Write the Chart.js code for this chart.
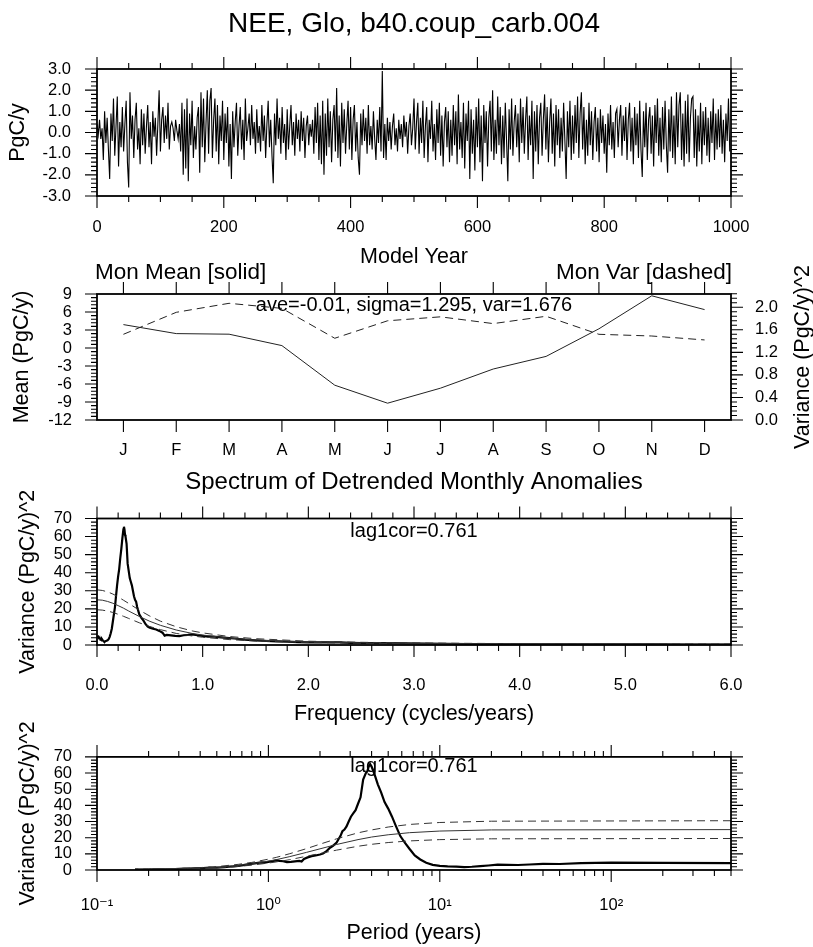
<!DOCTYPE html>
<html><head><meta charset="utf-8">
<script src="https://cdn.jsdelivr.net/npm/chart.js@4.4.1/dist/chart.umd.min.js"></script>
<style>
html,body{margin:0;padding:0;background:#fff;}
#wrap{position:relative;width:813px;height:947px;overflow:hidden;background:#fff;}
canvas{position:absolute;left:0;}
</style></head><body>
<div id="wrap">
<canvas id="c1" style="top:0px;width:813px;height:272px" width="813" height="272"></canvas>
<canvas id="c2" style="top:258px;width:813px;height:212px" width="813" height="212"></canvas>
<canvas id="c3" style="top:465px;width:813px;height:265px" width="813" height="265"></canvas>
<canvas id="c4" style="top:722px;width:813px;height:225px" width="813" height="225"></canvas>
</div>
<script>
// ---------------- DATA ----------------
const mainTitle = 'NEE, Glo, b40.coup_carb.004';
// NEE annual series (PgC/y), one value every 2 model years
const nee = [
 0.4,-0.1,0.6,-0.3,0.2,-1.3,1.0,-0.5,0.7,-0.8,
 -2.2,0.9,-0.4,1.6,-1.1,0.3,1.7,-1.6,0.5,-0.7,
 1.2,-0.9,0.4,1.5,-1.4,-2.6,1.9,-0.3,0.8,-1.2,
 0.6,1.4,-0.8,0.2,-1.5,1.1,-0.6,0.9,-1.0,0.3,
 1.3,-0.7,0.5,-1.5,1.0,-0.2,0.7,-1.1,0.4,2.0,
 -0.9,0.6,1.2,-0.5,0.8,-0.3,1.4,-0.8,0.3,0.5,
 0.2,-0.4,0.6,0.1,-0.3,0.4,-0.9,1.4,-2.0,1.1,
 -1.7,1.6,-2.3,0.9,-0.6,1.5,-1.2,0.3,-0.8,0.7,
 1.2,-1.9,1.9,-0.7,1.6,-1.4,0.5,2.0,-1.0,1.5,
 2.1,-1.2,0.6,1.6,-0.9,1.3,-1.5,0.8,-0.4,1.5,
 -1.3,0.9,-0.5,1.2,-1.6,0.4,-2.2,1.0,-0.7,0.5,
 1.4,-1.1,0.3,1.2,-0.8,0.6,-1.3,1.6,-0.4,0.2,
 0.9,-0.6,1.3,-0.3,0.5,-1.0,1.1,-0.5,0.3,-0.9,
 1.3,-0.4,0.8,-1.2,0.4,1.5,-0.7,0.6,-1.1,-2.4,
 0.9,-0.6,1.6,-0.3,0.7,-1.0,1.2,-0.5,0.4,-1.3,
 1.1,-0.8,0.3,1.3,-0.6,0.5,-1.1,0.9,-0.3,0.6,
 -0.9,1.0,-0.4,0.7,-1.2,0.3,0.8,-0.6,0.4,-0.2,
 0.6,-1.0,1.2,-0.5,1.4,-1.3,0.8,-1.5,1.5,-2.0,
 0.9,-1.1,1.6,-0.7,1.0,-1.4,0.6,1.3,-0.9,2.1,
 -1.2,0.8,-1.6,1.4,-0.5,1.1,-1.0,0.4,1.5,-0.8,
 1.2,-1.3,0.6,1.3,-0.9,0.5,-1.2,-2.0,0.9,-0.6,
 1.1,-0.4,0.7,-1.0,1.3,-0.6,0.3,-0.8,1.0,-0.3,
 -1.3,0.6,-0.5,1.2,-0.9,2.9,-1.2,0.4,-1.3,0.7,
 -0.4,0.5,-0.8,0.3,0.9,-0.6,0.2,-0.9,0.6,-0.3,
 0.4,-0.7,0.8,-0.2,0.5,-1.0,0.3,0.9,-0.6,0.2,
 1.6,-0.8,0.5,1.4,-1.0,0.7,-0.5,1.5,-1.2,0.3,
 1.2,-1.4,0.6,-0.3,1.5,-0.9,0.4,-1.3,1.1,-0.5,
 1.4,-1.1,0.8,-1.6,0.5,1.2,-0.7,1.0,-1.4,0.6,
 -1.1,1.3,-0.6,1.0,-1.5,1.8,-0.8,0.5,-1.2,1.4,
 -1.7,0.9,-0.4,1.5,-2.2,1.1,-1.0,0.6,-1.8,1.2,
 -0.7,1.6,-1.4,0.8,-2.3,1.3,-0.5,1.0,-1.6,0.7,
 1.5,-0.9,2.0,-1.3,0.6,-1.0,1.7,-0.6,1.2,-1.5,
 0.8,-1.2,1.4,-0.4,-2.3,1.1,-0.8,1.6,-1.1,0.5,
 1.3,-0.7,0.9,-1.4,1.6,-0.5,1.2,-1.0,0.6,1.7,
 -1.3,0.8,-0.6,1.5,-2.2,1.0,-0.9,1.3,-1.5,0.7,
 1.4,-1.1,0.6,1.8,-0.8,1.2,-1.4,0.5,1.6,-1.0,
 0.9,-1.6,1.3,-0.6,1.1,-1.2,0.7,-0.9,1.4,-0.4,
 -2.2,1.0,-0.7,1.5,-1.3,0.8,-1.0,1.3,-0.5,1.7,
 -1.2,0.9,1.9,-0.8,1.2,-1.5,0.6,-1.1,1.4,-0.6,
 1.0,-1.3,0.5,1.2,-0.9,0.7,-1.4,1.1,-0.5,0.8,
 -1.0,0.4,-1.9,0.9,-0.6,1.3,-0.8,0.5,-1.2,0.9,
 1.1,-0.7,0.6,1.3,-1.1,0.8,-0.4,1.2,-1.3,0.6,
 1.4,-0.9,0.7,-1.5,1.2,-0.6,0.9,-1.2,1.5,-0.8,
 -2.1,1.0,-0.7,1.4,-1.3,0.6,1.2,-1.0,0.8,-1.6,
 1.3,-0.5,1.6,-1.1,0.7,-1.4,1.2,-0.8,1.5,-0.6,
 -1.9,1.1,-0.9,1.7,-1.2,0.8,-1.5,1.9,-0.7,1.3,
 1.9,-1.3,0.9,-1.6,1.5,-1.0,1.8,-1.4,0.7,1.6,
 1.7,-1.2,1.1,-1.6,0.8,-0.9,1.4,-1.5,1.0,-0.6,
 1.2,-1.1,0.7,-1.4,1.0,-0.5,1.6,-1.3,0.9,-0.8,
 1.1,-0.7,1.3,-1.0,0.6,-1.4,0.9,-0.4,1.6,-0.9
];
const neeYears = nee.map((_, i) => i * 2);
const yearTicks = [0, 200, 400, 600, 800, 1000];
const neeTicks = [-3, -2, -1, 0, 1, 2, 3];

// Monthly climatology
const months = ['J','F','M','A','M','J','J','A','S','O','N','D'];
const monMean = [3.9, 2.4, 2.3, 0.4, -6.2, -9.2, -6.7, -3.5, -1.4, 3.2, 8.7, 6.4];
const monVar  = [1.52, 1.91, 2.07, 1.98, 1.45, 1.76, 1.83, 1.71, 1.84, 1.52, 1.49, 1.42];
const meanTicks = [-12, -9, -6, -3, 0, 3, 6, 9];
const varTicks = [0, 0.4, 0.8, 1.2, 1.6, 2.0];
const statsText = 'ave=-0.01, sigma=1.295, var=1.676';

// Spectrum of detrended monthly anomalies
const specFreq = [0.002,0.005,0.01,0.015,0.02,0.025,0.03,0.035,0.04,0.046,0.052,0.058,0.065,0.072,0.08,0.09,0.1,0.11,0.12,0.13,0.14,0.15,0.16,0.17,0.18,0.19,0.2,0.21,0.22,0.23,0.24,0.25,0.255,0.26,0.265,0.27,0.28,0.29,0.3,0.31,0.32,0.33,0.34,0.35,0.36,0.37,0.38,0.39,0.4,0.42,0.44,0.46,0.48,0.5,0.53,0.56,0.59,0.62,0.64,0.66,0.7,0.74,0.78,0.82,0.86,0.9,0.95,1.0,1.05,1.1,1.15,1.2,1.3,1.4,1.5,1.6,1.7,1.8,1.9,2.0,2.1,2.2,2.3,2.4,2.5,2.7,2.9,3.1,3.3,3.5,3.8,4.1,4.4,4.7,5.0,5.3,5.6,6.0];
const specVar  = [4.2,4.4,4.6,4.3,3.7,3.8,3.4,3.1,3.2,3.3,2.8,2.4,2.0,1.8,2.1,2.3,2.6,3.2,4.5,6.5,9.0,13,17,21,27,33,38,42,48,53,59,64,65.5,64,61,60,56,45,41,37,35,33,30,27,25,24,21,19,17,15,13.5,11.5,10.2,9.6,9.0,8.6,7.8,6.8,5.2,5.6,5.3,5.0,4.9,5.4,5.6,5.9,5.4,5.0,4.6,4.7,4.4,4.1,3.6,3.0,2.6,2.2,2.0,1.8,1.6,1.5,1.4,1.5,1.4,1.2,1.1,1.0,0.9,0.8,0.7,0.55,0.45,0.4,0.35,0.33,0.3,0.3,0.28,0.27];
const lagText = 'lag1cor=0.761';
// red-noise reference spectrum and its bounds
const rnFreq  = [0.002,0.05,0.1,0.15,0.2,0.25,0.3,0.4,0.5,0.6,0.75,0.9,1.0,1.25,1.5,2.0,2.5,3.0,4.0,5.0,6.0];
const rnMid   = [25.0,24.8,24.1,23.1,21.8,20.4,18.8,15.8,13.1,10.9,8.3,6.4,5.5,3.8,2.8,1.7,1.2,0.9,0.6,0.5,0.46];
const rnUpper = [30.5,30.2,29.4,28.2,26.6,24.8,23.0,19.3,16.0,13.2,10.1,7.8,6.7,4.7,3.5,2.1,1.5,1.1,0.74,0.6,0.56];
const rnLower = [19.5,19.3,18.8,18.0,17.0,15.9,14.7,12.3,10.2,8.5,6.4,5.0,4.3,3.0,2.2,1.4,0.94,0.71,0.48,0.38,0.36];
const freqTicks = [0, 1, 2, 3, 4, 5, 6];
const specTicks = [0, 10, 20, 30, 40, 50, 60, 70];
const periodTicks = [0.1, 1, 10, 100];
const periodLabels = ['10\u207B\u00B9', '10\u2070', '10\u00B9', '10\u00B2'];

// ---------------- HELPERS ----------------
const FONT = "'Liberation Sans', Arial, Helvetica, 'DejaVu Sans', sans-serif";
Chart.defaults.font.family = FONT;
Chart.defaults.color = '#000';
const steps = (a, b, s) => { const r = []; const n = Math.round((b - a) / s); for (let i = 0; i <= n; i++) r.push(+(a + i * s).toFixed(6)); return r; };
const logMinor = () => { const r = []; for (let d = -1; d <= 2; d++) for (let m = 2; m <= 9; m++) r.push(m * Math.pow(10, d)); return r; };
const setTicks = arr => s => { s.ticks = arr.map(v => ({ value: v })); };

const nclFrame = {
  id: 'nclFrame',
  afterDatasetsDraw(chart, args, o) {
    const { ctx, chartArea: a, scales } = chart;
    const X = scales.x, Y = scales.y, Y2 = scales[o.right || 'y'];
    const ML = 12, mL = 6;
    ctx.save();
    ctx.strokeStyle = '#000';
    ctx.lineWidth = 1.1;
    ctx.beginPath();
    const seg = (x1, y1, x2, y2) => { ctx.moveTo(x1, y1); ctx.lineTo(x2, y2); };
    const xt = (vals, len) => vals.forEach(v => { const p = X.getPixelForValue(v); if (p < a.left - 1 || p > a.right + 1) return; seg(p, a.bottom, p, a.bottom + len); seg(p, a.top, p, a.top - len); });
    const yl = (S, vals, len) => vals.forEach(v => { const p = S.getPixelForValue(v); if (p < a.top - 1 || p > a.bottom + 1) return; seg(a.left, p, a.left - len, p); });
    const yr = (S, vals, len) => vals.forEach(v => { const p = S.getPixelForValue(v); if (p < a.top - 1 || p > a.bottom + 1) return; seg(a.right, p, a.right + len, p); });
    xt(o.xMajor, ML); xt(o.xMinor || [], mL);
    yl(Y, o.yMajor, ML); yl(Y, o.yMinor || [], mL);
    yr(Y2, o.y2Major || o.yMajor, ML); yr(Y2, o.y2Minor || o.yMinor || [], mL);
    ctx.stroke();
    ctx.lineWidth = 1.8;
    ctx.strokeRect(a.left, a.top, a.right - a.left, a.bottom - a.top);
    (o.texts || []).forEach(t => {
      ctx.save();
      ctx.font = t.size + 'px ' + FONT;
      ctx.fillStyle = '#000';
      ctx.textBaseline = 'middle';
      const x = t.x != null ? t.x : (t.ax === 'left' ? a.left : t.ax === 'right' ? a.right : (a.left + a.right) / 2) + (t.dx || 0);
      const y = t.ay === 'middle' ? (a.top + a.bottom) / 2 : a.top + (t.dy || 0);
      ctx.translate(x, y);
      if (t.rot) ctx.rotate(t.rot * Math.PI / 180);
      ctx.textAlign = t.align || 'center';
      ctx.fillText(t.text, 0, 0);
      ctx.restore();
    });
    ctx.restore();
  }
};

const TICK = 16.5, AXT = 21.5;
const baseOpts = () => ({
  responsive: false, animation: false, events: [],
  plugins: { legend: { display: false }, tooltip: { enabled: false } }
});
const noGrid = { display: false, drawTicks: false };
const noBorder = { display: false };

// ---------------- PANEL 1: time series ----------------
new Chart(document.getElementById('c1'), {
  type: 'line',
  data: { datasets: [{ data: nee.map((v, i) => ({ x: neeYears[i], y: v })), borderColor: '#000', borderWidth: 1.1, pointRadius: 0, tension: 0 }] },
  options: Object.assign(baseOpts(), {
    layout: { padding: { left: 0, right: 82, top: 0, bottom: 0 } },
    plugins: {
      legend: { display: false }, tooltip: { enabled: false },
      title: { display: true, text: mainTitle, fullSize: false, color: '#000', font: { size: 28, weight: 'normal' }, padding: { top: 7, bottom: 28.4 } },
      nclFrame: { xMajor: yearTicks, xMinor: steps(0, 1000, 50), yMajor: neeTicks, yMinor: steps(-3, 3, 0.2) }
    },
    scales: {
      x: { type: 'linear', min: 0, max: 1000, grid: noGrid, border: noBorder, afterBuildTicks: setTicks(yearTicks),
           ticks: { padding: 22, font: { size: TICK }, maxRotation: 0, autoSkip: false, callback: v => String(v) },
           title: { display: true, text: 'Model Year', font: { size: AXT }, padding: { top: 0, bottom: 2 } },
           afterFit: s => { s.height = 76; } },
      y: { min: -3, max: 3, grid: noGrid, border: noBorder, afterBuildTicks: setTicks(neeTicks),
           ticks: { padding: 26, font: { size: TICK }, autoSkip: false, callback: v => v.toFixed(1) },
           title: { display: true, text: 'PgC/y', font: { size: AXT }, padding: { top: 5, bottom: 0 } },
           afterFit: s => { s.width = 97; } }
    }
  }),
  plugins: [nclFrame]
});

// ---------------- PANEL 2: monthly mean / variance ----------------
new Chart(document.getElementById('c2'), {
  type: 'line',
  data: {
    labels: months,
    datasets: [
      { data: monMean, yAxisID: 'y', borderColor: '#222', borderWidth: 1, pointRadius: 0, tension: 0 },
      { data: monVar, yAxisID: 'y2', borderColor: '#222', borderWidth: 1, borderDash: [8, 5], pointRadius: 0, tension: 0 }
    ]
  },
  options: Object.assign(baseOpts(), {
    layout: { padding: { left: 0, right: 0, top: 36, bottom: 0 } },
    plugins: {
      legend: { display: false }, tooltip: { enabled: false },
      nclFrame: {
        right: 'y2',
        xMajor: months.map((_, i) => i),
        yMajor: meanTicks, yMinor: steps(-12, 9, 0.6),
        y2Major: varTicks, y2Minor: steps(0, 2.24, 0.08),
        texts: [
          { text: 'Mon Mean [solid]', ax: 'left', dx: -2, dy: -21, size: 22.5, align: 'left' },
          { text: 'Mon Var [dashed]', ax: 'right', dx: 1, dy: -21, size: 22.5, align: 'right' },
          { text: statsText, ax: 'center', dy: 11, size: 20 },
          { text: 'Variance (PgC/y)^2', x: 803, ay: 'middle', size: AXT, rot: -90 }
        ]
      }
    },
    scales: {
      x: { type: 'category', offset: true, grid: noGrid, border: noBorder,
           ticks: { padding: 21, font: { size: TICK }, maxRotation: 0, autoSkip: false },
           afterFit: s => { s.height = 50; } },
      y: { position: 'left', min: -12, max: 9, grid: noGrid, border: noBorder, afterBuildTicks: setTicks(meanTicks),
           ticks: { padding: 25, font: { size: TICK }, autoSkip: false, callback: v => String(v) },
           title: { display: true, text: 'Mean (PgC/y)', font: { size: AXT }, padding: { top: 9, bottom: 0 } },
           afterFit: s => { s.width = 97; } },
      y2: { position: 'right', min: 0, max: 2.235, grid: noGrid, border: noBorder, afterBuildTicks: setTicks(varTicks),
            ticks: { padding: 24, font: { size: TICK }, autoSkip: false, callback: v => v.toFixed(1) },
            afterFit: s => { s.width = 82; } }
    }
  }),
  plugins: [nclFrame]
});

// ---------------- PANEL 3: spectrum vs frequency ----------------
const specDS = (xs, ys, w, dash, col) => ({ data: ys.map((v, i) => ({ x: xs[i], y: v })), borderColor: col, borderWidth: w, borderDash: dash, pointRadius: 0, tension: 0 });
new Chart(document.getElementById('c3'), {
  type: 'line',
  data: { datasets: [
    specDS(rnFreq, rnUpper, 1, [8, 5], '#333'),
    specDS(rnFreq, rnMid, 1, [], '#333'),
    specDS(rnFreq, rnLower, 1, [8, 5], '#333'),
    specDS(specFreq, specVar, 2.2, [], '#000')
  ] },
  options: Object.assign(baseOpts(), {
    layout: { padding: { left: 0, right: 82, top: 0, bottom: 0 } },
    plugins: {
      legend: { display: false }, tooltip: { enabled: false },
      title: { display: true, text: 'Spectrum of Detrended Monthly Anomalies', fullSize: false, color: '#000', font: { size: 24, weight: 'normal' }, padding: { top: 2.6, bottom: 22.1 } },
      nclFrame: { xMajor: freqTicks, xMinor: steps(0, 6, 0.2), yMajor: specTicks, yMinor: steps(0, 70, 2),
        texts: [{ text: lagText, ax: 'center', dy: 13, size: 20 }] }
    },
    scales: {
      x: { type: 'linear', min: 0, max: 6, grid: noGrid, border: noBorder, afterBuildTicks: setTicks(freqTicks),
           ticks: { padding: 31, font: { size: TICK }, maxRotation: 0, autoSkip: false, callback: v => v.toFixed(1) },
           title: { display: true, text: 'Frequency (cycles/years)', font: { size: AXT }, padding: { top: 0, bottom: 3 } },
           afterFit: s => { s.height = 85; } },
      y: { min: 0, max: 70, grid: noGrid, border: noBorder, afterBuildTicks: setTicks(specTicks),
           ticks: { padding: 25, font: { size: TICK }, autoSkip: false, callback: v => String(v) },
           title: { display: true, text: 'Variance (PgC/y)^2', font: { size: AXT }, padding: { top: 15, bottom: 0 } },
           afterFit: s => { s.width = 97; } }
    }
  }),
  plugins: [nclFrame]
});

// ---------------- PANEL 4: spectrum vs period ----------------
const perDS = (xs, ys, w, dash, col) => ({ data: ys.map((v, i) => ({ x: 1 / xs[i], y: v })), borderColor: col, borderWidth: w, borderDash: dash, pointRadius: 0, tension: 0 });
new Chart(document.getElementById('c4'), {
  type: 'line',
  data: { datasets: [
    perDS(rnFreq, rnUpper, 1, [8, 5], '#333'),
    perDS(rnFreq, rnMid, 1, [], '#333'),
    perDS(rnFreq, rnLower, 1, [8, 5], '#333'),
    perDS(specFreq, specVar, 2.2, [], '#000')
  ] },
  options: Object.assign(baseOpts(), {
    layout: { padding: { left: 0, right: 82, top: 21, bottom: 0 } },
    plugins: {
      legend: { display: false }, tooltip: { enabled: false },
      nclFrame: { xMajor: periodTicks, xMinor: logMinor(), yMajor: specTicks, yMinor: steps(0, 70, 2),
        texts: [{ text: lagText, ax: 'center', dy: 10, size: 20 }] }
    },
    scales: {
      x: { type: 'logarithmic', min: 0.1, max: 500, grid: noGrid, border: noBorder, afterBuildTicks: setTicks(periodTicks),
           ticks: { padding: 26, font: { size: TICK }, maxRotation: 0, autoSkip: false, callback: (v, i) => periodLabels[i] },
           title: { display: true, text: 'Period (years)', font: { size: AXT }, padding: { top: 0, bottom: 1 } },
           afterFit: s => { s.height = 77; } },
      y: { min: 0, max: 70, grid: noGrid, border: noBorder, afterBuildTicks: setTicks(specTicks),
           ticks: { padding: 25, font: { size: TICK }, autoSkip: false, callback: v => String(v) },
           title: { display: true, text: 'Variance (PgC/y)^2', font: { size: AXT }, padding: { top: 15, bottom: 0 } },
           afterFit: s => { s.width = 97; } }
    }
  }),
  plugins: [nclFrame]
});
</script>
</body></html>
